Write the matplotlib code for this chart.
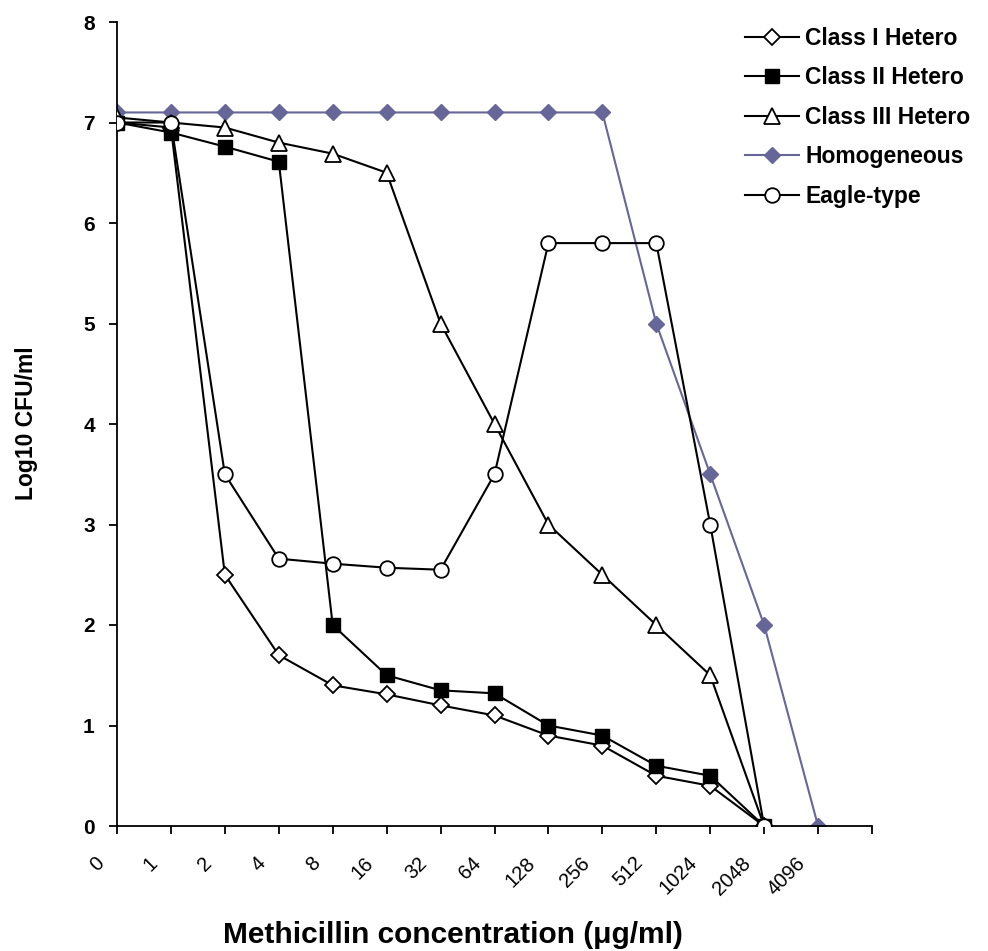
import matplotlib
matplotlib.use("Agg")
import matplotlib.pyplot as plt
from matplotlib.transforms import ScaledTranslation, blended_transform_factory

plt.rcParams['font.family'] = ['Liberation Sans', 'DejaVu Sans']

categories = ["0", "1", "2", "4", "8", "16", "32", "64", "128", "256", "512", "1024", "2048", "4096"]
class1 = [7.0, 6.95, 2.5, 1.7, 1.4, 1.31, 1.2, 1.1, 0.9, 0.8, 0.5, 0.4, 0.0]
class2 = [7.0, 6.9, 6.76, 6.61, 2.0, 1.5, 1.35, 1.32, 1.0, 0.9, 0.6, 0.5, 0.0]
class3 = [7.05, 7.0, 6.95, 6.8, 6.69, 6.5, 5.0, 4.0, 3.0, 2.5, 2.0, 1.5, 0.0]
homog = [7.1, 7.1, 7.1, 7.1, 7.1, 7.1, 7.1, 7.1, 7.1, 7.1, 5.0, 3.5, 2.0, 0.0]
eagle = [7.0, 7.0, 3.5, 2.66, 2.61, 2.57, 2.55, 3.5, 5.8, 5.8, 5.8, 3.0, 0.0]

W, H = 988, 951
fig = plt.figure(figsize=(W / 100, H / 100), dpi=100)
ax = fig.add_axes([117 / W, 1 - 826 / H, (872 - 117) / W, (826 - 22) / H])

lw = 1.5
ax.plot(range(len(homog)), homog, color='#666699', lw=lw, marker='D', ms=8.5,
        mfc='#666699', mec='#666699', label='Homogeneous', zorder=2)
ax.plot(range(len(class1)), class1, color='black', lw=lw, marker='D', ms=8.5,
        mfc='white', mec='black', mew=1.3, label='Class I Hetero', zorder=3)
ax.plot(range(len(class2)), class2, color='black', lw=lw, marker='s', ms=10,
        mfc='black', mec='black', label='Class II Hetero', zorder=4)
ax.plot(range(len(class3)), class3, color='black', lw=lw, marker='^', ms=11,
        mfc='white', mec='black', mew=1.3, label='Class III Hetero', zorder=3)
ax.plot(range(len(eagle)), eagle, color='black', lw=lw, marker='o', ms=10.5,
        mfc='white', mec='black', mew=1.3, label='Eagle-type', zorder=5)

ax.set_xlim(0, 14)
ax.set_ylim(0, 8)
ax.set_xticks(range(15))
ax.set_xticklabels([])
ax.set_yticks(range(9))
ax.set_yticklabels([str(i) for i in range(9)], fontsize=15, fontweight='bold')
ax.tick_params(axis='both', direction='out', length=6, width=1.3, color='black')
ax.tick_params(axis='y', pad=10)

# rotated category labels (Excel-style placement)
tr = blended_transform_factory(ax.transData, ax.transAxes) + \
    ScaledTranslation(-16 / 100, -34 / 100, fig.dpi_scale_trans)
for i, lab in enumerate(categories):
    ax.text(i, 0, lab, transform=tr, rotation=45, rotation_mode='anchor',
            ha='right', va='center', fontsize=14.5, clip_on=False)

for s in ['top', 'right']:
    ax.spines[s].set_visible(False)
for s in ['left', 'bottom']:
    ax.spines[s].set_linewidth(1.3)

fig.text(453 / W, 1 - 943 / H, 'Methicillin concentration (\u03bcg/ml)',
         fontsize=21.5, fontweight='bold', ha='center', va='baseline')
fig.text(27 / W, 1 - 423 / H, 'Log10 CFU/ml', fontsize=16.5, fontweight='bold',
         rotation=90, ha='center', va='center')

handles, labels = ax.get_legend_handles_labels()
order = [1, 2, 3, 0, 4]
leg = fig.legend([handles[i] for i in order], [labels[i] for i in order],
                 loc='upper left', bbox_to_anchor=(745 / W, 1 - 27 / H),
                 bbox_transform=fig.transFigure, frameon=False, borderpad=0,
                 borderaxespad=0, prop={'weight': 'bold', 'size': 16.5},
                 handlelength=2.35, handletextpad=0.27, labelspacing=0.72)

fig.savefig('out.png', dpi=100)
